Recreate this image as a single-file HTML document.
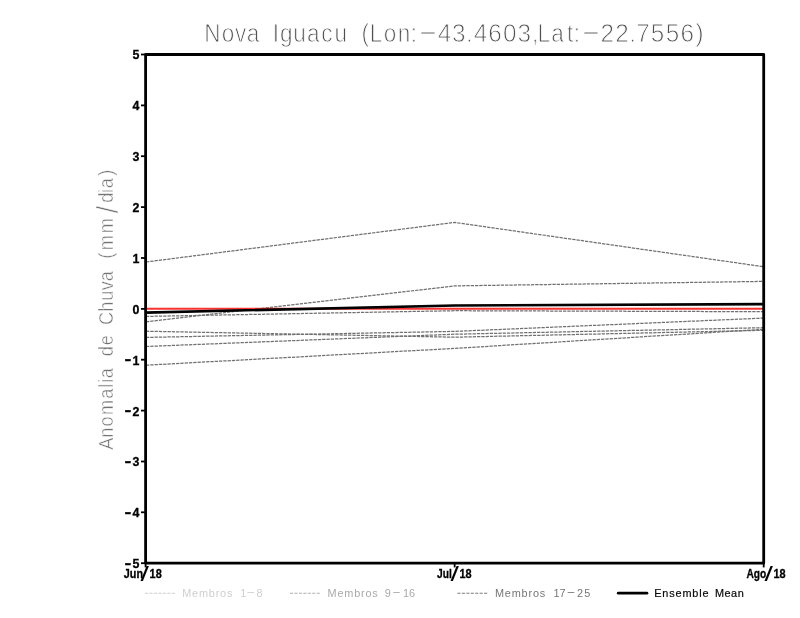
<!DOCTYPE html>
<html lang="pt">
<head>
<meta charset="utf-8">
<title>Nova Iguacu</title>
<style>
html,body{margin:0;padding:0;background:#fff;}
body{width:800px;height:618px;overflow:hidden;}
svg{display:block;}
text{font-family:"Liberation Sans",sans-serif;white-space:pre;}
.tk{font-weight:bold;font-size:12.4px;fill:#000;stroke:#000;stroke-width:0.3px;}
.thin{stroke:#fff;stroke-width:0.85px;}
.m{fill:none;stroke:#707070;stroke-width:1.25;stroke-dasharray:3.3 1;}
.lg{font-size:10.9px;}
</style>
</head>
<body>
<svg width="800" height="618" viewBox="0 0 800 618">
<rect x="0" y="0" width="800" height="618" fill="#fff"/>
<text transform="translate(0 42.0) scale(0.9 1)" class="thin" fill="#505050" font-size="25.1" y="0" x="227.0 246.5 261.2 274.1 293.3 303.1 311.1 325.8 341.0 357.0 371.6 391.1 401.8 410.7 426.5 441.9 456.5">Nova Iguacu (Lon:</text><text class="thin" fill="#505050" font-size="25.1" x="417.6" y="39.5" textLength="21" lengthAdjust="spacingAndGlyphs">-</text><text transform="translate(0 42.0) scale(0.97 1)" class="thin" fill="#505050" font-size="25.1" y="0" x="451.4 466.1 480.3 488.5 503.4 518.6 533.5">43.4603</text><text transform="translate(0 42.0) scale(0.9 1)" class="thin" fill="#505050" font-size="25.1" y="0" x="591.0 597.2 612.6 630.0 637.5">,Lat:</text><text class="thin" fill="#505050" font-size="25.1" x="580.6" y="39.5" textLength="21" lengthAdjust="spacingAndGlyphs">-</text><text transform="translate(0 42.0) scale(0.97 1)" class="thin" fill="#505050" font-size="25.1" y="0" x="619.1 634.2 648.7 656.0 671.0 686.4 701.5 717.0">22.7556)</text>
<g transform="translate(113.3 448.8) rotate(-90)"><text transform="translate(0 0) scale(0.9 1)" fill="#737373" stroke="#fff" stroke-width="0.5" font-size="20.2" y="0" x="-1.1 12.4 24.8 37.6 55.7 67.9 73.5 78.3 96.4 102.9 115.0 132.0 137.5 152.4 164.4 176.1 186.2 204.2 211.1 220.5 239.6 261.6 273.4 284.3 289.6 303.3">Anomalia de Chuva (mm<tspan font-size="29" dy="4.6">/</tspan><tspan dy="-4.6">dia)</tspan></text></g>
<polyline class="m" points="146.0,262.0 454.65,222.4 763.5,266.7"/>
<polyline class="m" points="146.0,321.8 454.65,285.9 763.5,281.4"/>
<polyline class="m" points="146.0,316.4 454.65,310.7 763.5,311.7"/>
<polyline class="m" points="146.0,331.2 454.65,337.2 763.5,330.3"/>
<polyline class="m" points="146.0,337.4 454.65,331.4 763.5,318.1"/>
<polyline class="m" points="146.0,346.5 454.65,334.2 763.5,327.7"/>
<polyline class="m" points="146.0,365.2 454.65,348.4 763.5,329.3"/>
<line x1="145.6" y1="308.85" x2="763.7" y2="308.85" stroke="#fa3232" stroke-width="2"/>
<polyline points="145.6,312.6 454.65,305.5 763.7,304.1" fill="none" stroke="#000" stroke-width="2.6" stroke-linejoin="round"/>
<rect x="145.6" y="54.5" width="618.1" height="508.7" fill="none" stroke="#000" stroke-width="2.8" stroke-linejoin="round"/>
<g stroke="#000" stroke-width="1.8">
<line x1="141" x2="145" y1="54.5" y2="54.5"/>
<line x1="141" x2="145" y1="105.4" y2="105.4"/>
<line x1="141" x2="145" y1="156.2" y2="156.2"/>
<line x1="141" x2="145" y1="207.1" y2="207.1"/>
<line x1="141" x2="145" y1="258.0" y2="258.0"/>
<line x1="141" x2="145" y1="308.9" y2="308.9"/>
<line x1="141" x2="145" y1="359.7" y2="359.7"/>
<line x1="141" x2="145" y1="410.6" y2="410.6"/>
<line x1="141" x2="145" y1="461.5" y2="461.5"/>
<line x1="141" x2="145" y1="512.3" y2="512.3"/>
<line x1="141" x2="145" y1="563.2" y2="563.2"/>
<line x1="145.6" x2="145.6" y1="564" y2="567.4"/>
<line x1="454.65" x2="454.65" y1="564" y2="567.4"/>
<line x1="763.7" x2="763.7" y1="564" y2="567.4"/>
</g>
<g class="tk">
<text x="132.5" y="59.4">5</text>
<text x="132.5" y="110.3">4</text>
<text x="132.5" y="161.1">3</text>
<text x="132.5" y="212.0">2</text>
<text x="132.5" y="262.9">1</text>
<text x="132.5" y="313.8">0</text>
<text y="364.6"><tspan x="124.6" dy="-0.2" font-size="15" textLength="6.8" lengthAdjust="spacingAndGlyphs">-</tspan><tspan x="132.5" dy="0.2">1</tspan></text>
<text y="415.5"><tspan x="124.6" dy="-0.2" font-size="15" textLength="6.8" lengthAdjust="spacingAndGlyphs">-</tspan><tspan x="132.5" dy="0.2">2</tspan></text>
<text y="466.4"><tspan x="124.6" dy="-0.2" font-size="15" textLength="6.8" lengthAdjust="spacingAndGlyphs">-</tspan><tspan x="132.5" dy="0.2">3</tspan></text>
<text y="517.2"><tspan x="124.6" dy="-0.2" font-size="15" textLength="6.8" lengthAdjust="spacingAndGlyphs">-</tspan><tspan x="132.5" dy="0.2">4</tspan></text>
<text y="568.1"><tspan x="124.6" dy="-0.2" font-size="15" textLength="6.8" lengthAdjust="spacingAndGlyphs">-</tspan><tspan x="132.5" dy="0.2">5</tspan></text>
</g>
<g class="tk">
<text y="577.8"><tspan x="123.8" textLength="19.2" lengthAdjust="spacingAndGlyphs">Jun</tspan><tspan x="140.6" dy="3" font-size="19.5" font-weight="normal" stroke="none" textLength="8.4" lengthAdjust="spacingAndGlyphs">/</tspan><tspan x="149.6" dy="-3" textLength="12.2" lengthAdjust="spacingAndGlyphs">18</tspan></text>
<text y="577.8"><tspan x="437.0" textLength="14.8" lengthAdjust="spacingAndGlyphs">Jul</tspan><tspan x="450.6" dy="3" font-size="19.5" font-weight="normal" stroke="none" textLength="8.4" lengthAdjust="spacingAndGlyphs">/</tspan><tspan x="459.5" dy="-3" textLength="12.2" lengthAdjust="spacingAndGlyphs">18</tspan></text>
<text y="577.8"><tspan x="746.5" textLength="19.8" lengthAdjust="spacingAndGlyphs">Ago</tspan><tspan x="764.4" dy="3" font-size="19.5" font-weight="normal" stroke="none" textLength="8.4" lengthAdjust="spacingAndGlyphs">/</tspan><tspan x="773.4" dy="-3" textLength="12.2" lengthAdjust="spacingAndGlyphs">18</tspan></text>
</g>
<g fill="none" stroke-width="1.15" stroke-dasharray="3.1 1.35">
<line x1="145" x2="174.8" y1="593.2" y2="593.2" stroke="#cdcdcd"/>
<line x1="290" x2="319.9" y1="593.2" y2="593.2" stroke="#b0b0b0"/>
<line x1="457.4" x2="487.3" y1="593.2" y2="593.2" stroke="#7c7c7c"/>
</g>
<line x1="618.3" x2="646.9" y1="593.2" y2="593.2" stroke="#000" stroke-width="2.8" stroke-linecap="round"/>
<text class="lg" y="596.7" fill="#cfcfcf"><tspan x="182.2" textLength="50.2">Membros</tspan> <tspan x="240.2">1</tspan><tspan x="246.3" dy="-1.3" textLength="9" lengthAdjust="spacingAndGlyphs">-</tspan><tspan x="256.4" dy="1.3">8</tspan></text>
<text class="lg" y="596.7" fill="#aaaaaa"><tspan x="327.6" textLength="50.2">Membros</tspan> <tspan x="384.8">9</tspan><tspan x="391.9" dy="-1.3" textLength="9" lengthAdjust="spacingAndGlyphs">-</tspan><tspan x="402.9" dy="1.3">1</tspan><tspan x="409">6</tspan></text>
<text class="lg" y="596.7" fill="#767676"><tspan x="495.0" textLength="50.2">Membros</tspan> <tspan x="553.5">1</tspan><tspan x="559.5">7</tspan><tspan x="566.6" dy="-1.3" textLength="9" lengthAdjust="spacingAndGlyphs">-</tspan><tspan x="577" dy="1.3">2</tspan><tspan x="584.2">5</tspan></text>
<text class="lg" y="596.7" fill="#0a0a0a" stroke="#0a0a0a" stroke-width="0.2"><tspan x="654.2" textLength="54.3">Ensemble</tspan> <tspan x="715" textLength="28.7">Mean</tspan></text>
</svg>
</body>
</html>
